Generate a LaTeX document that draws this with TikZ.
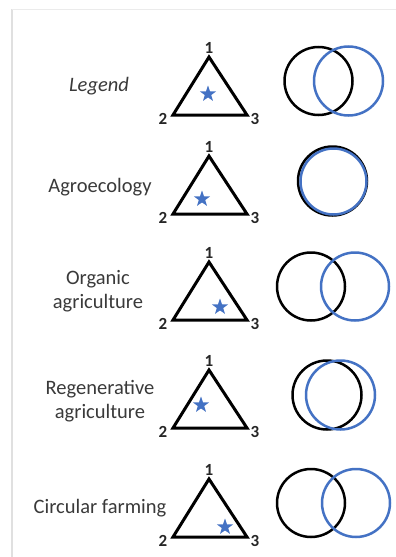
\documentclass[tikz,border=0pt]{standalone}
\usepackage{fontspec}
\setmainfont{Carlito}
\usetikzlibrary{shapes.geometric}
\definecolor{bl}{HTML}{4472C4}
\definecolor{txt}{HTML}{3A3A3A}
\begin{document}
\begin{tikzpicture}[x=1pt,y=-1pt,
  tri/.style={line width=3pt,line join=miter},
  vlab/.style={font=\bfseries\fontsize{17}{17}\selectfont,text=black!85,inner sep=0pt},
  rowlab/.style={font=\fontsize{20.5}{24}\selectfont,text=txt,align=center,inner sep=0pt},
  starmark/.style={star,star points=5,star point ratio=2.5,fill=bl,draw=none,minimum size=17pt,inner sep=0pt},
  bcirc/.style={draw=black,line width=2.5pt},
  ucirc/.style={draw=bl,line width=2.5pt},
  frame/.style={draw=black!12,line width=2.5pt}]
\useasboundingbox (0,0) rectangle (396,557);
\fill[white] (0,0) rectangle (396,557);
\draw[frame] (12,557) -- (12,9);
\draw[black!8,line width=1pt] (12,9) -- (396,9);
% rows: label, apex y, star x, star y, black cx, cy, r, blue cx, cy, r
\foreach \i/\ay/\sx/\sy/\bx/\by/\br/\ux/\uy/\ur in {
  1/57/208/94/318.5/81/34/348.5/81/34.5,
  2/156/202/199/332.5/181/34.5/333.5/181.5/33,
  3/262/220/307/311/286.5/34/355/286.5/34,
  4/370/201/405/327/395/34.5/340.5/395/34.5,
  5/479/225/527/311/503/34/356/503/34}{
  \coordinate (a\i) at (209,\ay);
  \coordinate (l\i) at (173,\ay+58);
  \coordinate (r\i) at (247,\ay+58);
  \draw[tri] (a\i) -- (l\i) -- (r\i) -- cycle;
  \node[vlab] (n1\i) at (209,\ay-9) {1};
  \node[vlab] (n2\i) at (163,\ay+62) {2};
  \node[vlab] (n3\i) at (255,\ay+62) {3};
  \node[starmark] (s\i) at (\sx,\sy) {};
  \node[bcirc,circle,minimum size=2*\br pt,inner sep=0pt] (b\i) at (\bx,\by) {};
  \node[ucirc,circle,minimum size=2*\ur pt,inner sep=0pt] (u\i) at (\ux,\uy) {};
}
\node[rowlab,font=\itshape\fontsize{20.5}{24}\selectfont] (t1) at (99,86) {Legend};
\node[rowlab] (t2) at (100,187) {Agroecology};
\node[rowlab] (t3) at (98,291) {Organic\\agriculture};
\node[rowlab] (t4) at (100,401) {Regenerative\\agriculture};
\node[rowlab] (t5) at (100,508) {Circular farming};
\end{tikzpicture}
\end{document}
